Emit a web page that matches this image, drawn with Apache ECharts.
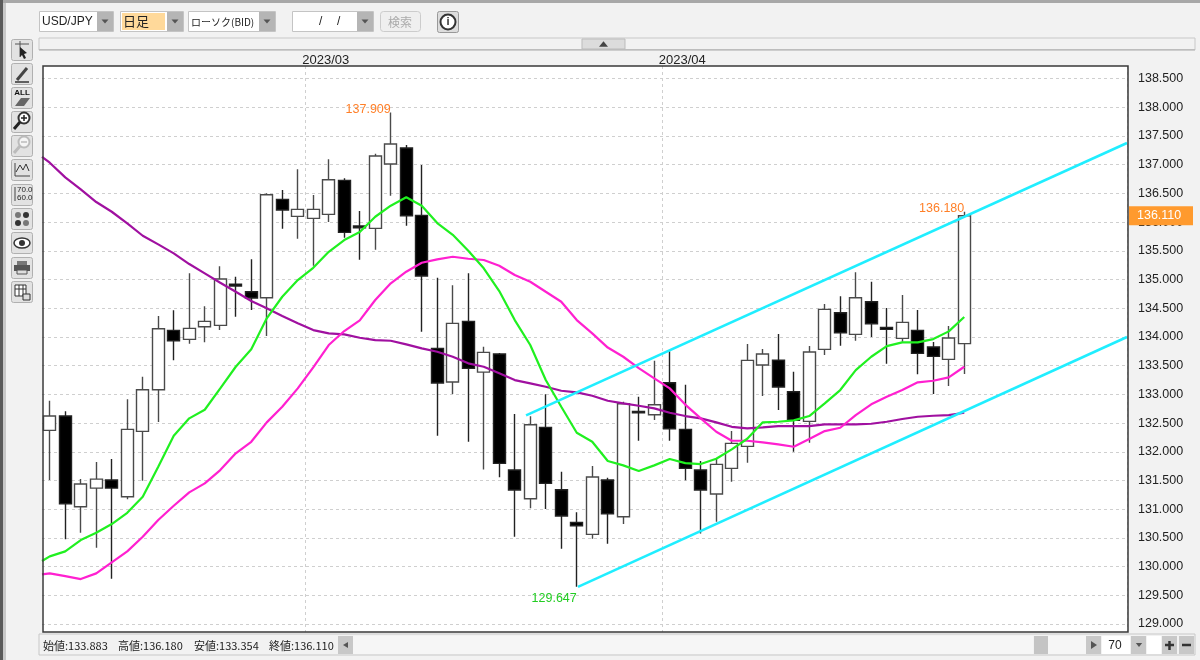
<!DOCTYPE html>
<html><head><meta charset="utf-8">
<style>html,body{margin:0;padding:0;background:#f2f2f2}#c{width:1200px;height:660px}</style>
<script src="https://cdn.jsdelivr.net/npm/echarts@6/dist/echarts.min.js"></script>
</head><body><div id="c"></div>
<script>
const tradingDays=['2023/02/06','2023/02/07','2023/02/08','2023/02/09','2023/02/10','2023/02/13','2023/02/14','2023/02/15','2023/02/16','2023/02/17','2023/02/20','2023/02/21','2023/02/22','2023/02/23','2023/02/24','2023/02/27','2023/02/28',
'2023/03/01','2023/03/02','2023/03/03','2023/03/06','2023/03/07','2023/03/08','2023/03/09','2023/03/10','2023/03/13','2023/03/14','2023/03/15','2023/03/16','2023/03/17','2023/03/20','2023/03/21','2023/03/22','2023/03/23','2023/03/24','2023/03/27','2023/03/28','2023/03/29','2023/03/30','2023/03/31',
'2023/04/03','2023/04/04','2023/04/05','2023/04/06','2023/04/07','2023/04/10','2023/04/11','2023/04/12','2023/04/13','2023/04/14','2023/04/17','2023/04/18','2023/04/19','2023/04/20','2023/04/21','2023/04/24','2023/04/25','2023/04/26','2023/04/27','2023/04/28'];
const emptySlots=['','','','','','','','','',''];
const monthStarts=['2023/03/01','2023/04/03'];
const priceTicks=[129,129.5,130,130.5,131,131.5,132,132.5,133,133.5,134,134.5,135,135.5,136,136.5,137,137.5,138,138.5];
const opens=[132.373,132.622,131.042,131.367,131.507,131.216,132.355,133.080,134.115,133.958,134.178,134.202,134.921,134.787,134.683,136.397,136.101,136.066,136.136,136.728,135.932,135.892,137.012,137.291,136.118,133.801,133.214,134.272,133.388,133.702,131.681,131.181,132.425,131.338,130.770,130.561,131.507,130.867,132.704,132.644,133.202,132.390,131.681,131.263,131.711,132.094,133.510,133.597,133.045,132.529,133.784,134.422,134.045,134.613,134.167,133.975,134.115,133.824,133.610,133.883];
const closes=[132.622,131.094,131.437,131.524,131.367,132.390,133.080,134.143,133.934,134.150,134.272,135.009,134.887,134.678,136.477,136.211,136.223,136.223,136.739,135.822,135.902,137.152,137.361,136.111,135.061,133.197,134.237,133.453,133.732,131.798,131.333,132.470,131.449,130.880,130.711,131.559,130.920,132.836,132.679,132.819,132.401,131.711,131.333,131.780,132.146,133.592,133.702,133.127,132.547,133.737,134.481,134.073,134.683,134.230,134.132,134.254,133.714,133.662,133.981,136.110];
const highs=[132.888,132.704,131.524,131.820,131.873,132.913,133.306,134.364,134.463,135.108,134.533,135.230,135.049,135.352,136.502,136.559,136.920,136.472,137.094,136.763,136.193,137.192,137.909,137.343,136.995,135.031,134.899,135.108,133.829,133.719,132.657,132.617,133.000,131.651,130.944,131.751,131.547,132.871,132.958,133.585,133.749,133.167,131.838,131.885,132.360,133.876,133.789,134.050,133.394,133.841,134.573,134.707,135.125,134.962,134.503,134.730,134.469,133.911,134.190,136.180];
const lows=[131.507,130.474,130.589,130.327,129.787,131.171,131.495,132.517,133.592,133.881,133.906,134.120,134.352,134.469,134.016,135.885,135.711,135.240,136.002,135.728,135.345,135.519,136.460,135.937,134.090,132.279,133.005,132.174,131.693,131.554,130.519,131.014,131.002,130.310,129.647,130.484,130.397,130.740,132.192,132.552,132.192,131.502,130.578,130.780,131.477,131.808,132.970,132.726,132.000,132.157,133.685,133.847,133.934,133.998,133.533,133.916,133.348,133.005,133.145,133.354];
const maShortLead=130.096;
const maShort=[130.177,130.265,130.462,130.589,130.740,130.937,131.216,131.739,132.279,132.582,132.732,133.104,133.481,133.784,134.324,134.700,134.991,135.205,135.484,135.688,135.827,136.094,136.286,136.432,136.286,135.984,135.780,135.502,135.195,134.800,134.294,133.859,133.249,132.784,132.331,132.174,131.838,131.763,131.664,131.763,131.873,131.803,131.786,131.878,132.042,132.226,132.512,132.523,132.547,132.622,132.843,133.075,133.423,133.655,133.841,133.906,133.906,133.963,134.097,134.347];
const maMidLead=129.864;
const maMid=[129.881,129.834,129.782,129.881,130.073,130.265,130.519,130.810,131.059,131.293,131.449,131.681,131.972,132.174,132.512,132.784,133.104,133.470,133.859,134.103,134.289,134.643,134.934,135.136,135.293,135.352,135.397,135.362,135.340,135.240,135.078,134.962,134.787,134.613,134.294,134.063,133.815,133.655,133.458,133.279,133.104,132.822,132.582,132.348,132.192,132.192,132.164,132.129,132.087,132.221,132.360,132.418,132.639,132.826,132.958,133.075,133.209,133.237,133.296,133.481];
const maLongLead=137.139;
const maLong=[137.035,136.780,136.571,136.350,136.181,135.979,135.763,135.613,135.456,135.270,135.108,134.944,134.787,134.625,134.498,134.364,134.237,134.120,134.063,134.045,133.986,133.946,133.934,133.871,133.801,133.742,133.655,133.540,133.481,133.366,133.249,133.192,133.132,133.063,133.035,132.975,132.888,132.843,132.801,132.756,132.679,132.622,132.582,132.512,132.435,132.408,132.425,132.448,132.448,132.448,132.477,132.477,132.477,132.488,132.523,132.570,132.610,132.627,132.639,132.679];
const upperChannel=[[31.23,132.634],[70,137.378]];
const lowerChannel=[[34.58,129.647],[70,134.0]];
const highNote={index:22,value:137.909};
const topNote={index:59,value:136.180};
const lowNote={index:34,value:129.647};
const lastClose=136.110;
const statusTexts=['始値:133.883','高値:136.180','安値:133.354','終値:136.110'];

const categories=tradingDays.concat(emptySlots);
const candles=opens.map((o,i)=>[o,closes[i],lows[i],highs[i]]);
const slotLine=(lead,arr)=>[[0,lead]].concat(arr.map((v,i)=>[i+0.5,v]));
const LAT='"Liberation Sans",Arial,sans-serif', CJK='"Noto Sans CJK JP","Liberation Sans",sans-serif';

const g=[];
const rect=(x,y,w,h,fill,stroke,lw)=>g.push({type:'rect',shape:{x,y,width:w,height:h},style:{fill:fill||'none',stroke:stroke||'none',lineWidth:lw||1},silent:true});
const txt=(x,y,t,o)=>g.push({type:'text',x,y,style:Object.assign({text:t,fill:'#222',font:'12px '+CJK,textVerticalAlign:'middle'},o||{}),silent:true});
const tri=(cx,cy,s,up,fill)=>g.push({type:'polygon',shape:{points:up?[[cx-s,cy+s*0.6],[cx+s,cy+s*0.6],[cx,cy-s*0.6]]:[[cx-s,cy-s*0.6],[cx+s,cy-s*0.6],[cx,cy+s*0.6]]},style:{fill:fill||'#555'},silent:true});
const line=(x1,y1,x2,y2,c,w)=>g.push({type:'line',shape:{x1,y1,x2,y2},style:{stroke:c||'#444',lineWidth:w||1},silent:true});
const circ=(cx,cy,r,fill,stroke,w)=>g.push({type:'circle',shape:{cx,cy,r},style:{fill:fill||'none',stroke:stroke||'none',lineWidth:w||1},silent:true});

// window edges
rect(0,0,1200,3,'#a8a8a8');
rect(0,0,3,660,'#5a5a5a');
rect(3,3,3,657,'#c8c8c8');
// combos
const combo=(x,w,label,o)=>{rect(x+.5,11.5,w,20,'#fff','#c4c4c4');rect(x+w-16,12,16,19,'#b5b5b5');tri(x+w-8,21.5,3.5,false,'#555');
  if(label)txt(x+3,22,label,o);};
combo(39,74,'USD/JPY',{font:'12px '+LAT});
combo(120,63,'');rect(122,13,43,17,'#ffd99a');txt(123,21,'日足',{font:'13px '+CJK});
combo(188,87,'ローソク(BID)',{font:'10px '+CJK});
combo(292,81,'',{});txt(319,22,'/',{font:'12px '+LAT});txt(337,22,'/',{font:'12px '+LAT});
g.push({type:'rect',shape:{x:380.5,y:11.5,width:40,height:20,r:3},style:{fill:'#efefef',stroke:'#ccc'},silent:true});
txt(388,22,'検索',{font:'12px '+CJK,fill:'#aaa'});
g.push({type:'rect',shape:{x:437.5,y:11.5,width:21,height:21,r:2},style:{fill:'#ddd',stroke:'#999'},silent:true});
circ(448,22,7.5,'#fff','#333',2);txt(448,22,'i',{font:'bold 11px '+LAT,textAlign:'center',fill:'#333'});
// header bands
rect(39,38,1156,12,'#f2f2f2','#c8c8c8');
rect(39,49,1156,1.5,'#bdbdbd');
rect(582,39,43,10,'#dcdcdc','#bbb');tri(603.5,44,4.5,true,'#444');
// side toolbar
const btnY=[39,63,87,111,135,159,184,208,232,257,281];
btnY.forEach(y=>g.push({type:'rect',shape:{x:11.5,y:y+.5,width:21,height:21,r:2},style:{fill:'#e2e2e2',stroke:'#b0b0b0'},silent:true}));
line(15,44,29,44,'#555');line(20,41,20,57,'#555');g.push({type:'polygon',shape:{points:[[20,47],[27,53],[24,54],[26,58],[24,59],[22,55],[20,57]]},style:{fill:'#222'},silent:true});
line(17,80,27,68,'#444',3);line(15,82,29,82,'#333',1.5);
txt(22,93,'ALL',{font:'bold 8px '+LAT,textAlign:'center',fill:'#111'});g.push({type:'polygon',shape:{points:[[15,106],[21,98],[30,98],[24,106]]},style:{fill:'#666'},silent:true});
circ(24,118,5.5,'#fff','#333',2);line(20,122,14,129,'#222',3);line(21,118,27,118,'#222',1.5);line(24,115,24,121,'#222',1.5);
circ(24,142,5.5,'#f5f5f5','#bbb',2);line(20,146,14,153,'#bbb',3);line(21,142,27,142,'#bbb',1.5);
line(15,163,15,176,'#444');line(15,176,30,176,'#444');
g.push({type:'polyline',shape:{points:[[16,172],[20,165],[23,170],[26,164],[29,171]]},style:{fill:'none',stroke:'#333'},silent:true});
line(15,187,15,201,'#444');txt(17,190,'70.0',{font:'8px '+LAT,fill:'#222'});txt(17,198,'60.0',{font:'8px '+LAT,fill:'#222'});
circ(18,215,3,'#777');circ(26,215,3,'#333');circ(18,223,3,'#333');circ(26,223,3,'#777');
g.push({type:'ellipse',shape:{cx:22,cy:243,rx:8,ry:5},style:{fill:'#fff',stroke:'#333',lineWidth:1.5},silent:true});circ(22,243,3,'#333');
rect(17,261,10,4,'#777');rect(14,265,16,6,'#555');rect(17,270,10,4,'#ddd','#555');
rect(15,285,11,11,'#fff','#333');line(15,289,26,289,'#333');line(19,285,19,296,'#333');line(23,285,23,296,'#333');rect(23,294,7,6,'#ddd','#333');
// status bar
rect(39,634,1156,21,'#f2f2f2','#c8c8c8');
const statusX=[43,118,194,269];
statusTexts.forEach((t,i)=>txt(statusX[i],646,t,{font:'11px '+CJK,fill:'#222'}));
rect(338,636,15,18,'#c8c8c8');g.push({type:'polygon',shape:{points:[[343,645],[348,642],[348,648]]},style:{fill:'#555'},silent:true});
rect(353,636,680,18,'#f6f6f6');
rect(1034,636,14,18,'#c4c4c4');
rect(1048,636,38,18,'#f6f6f6');
rect(1086,636,15,18,'#c8c8c8');g.push({type:'polygon',shape:{points:[[1091,641],[1097,645],[1091,649]]},style:{fill:'#555'},silent:true});
rect(1102,636,28,18,'#fff');txt(1115,646,'70',{font:'12px '+LAT,textAlign:'center'});
rect(1131,636,15,18,'#c8c8c8');tri(1139,645,3.2,false,'#555');
rect(1147,636,14,18,'#fff');
rect(1162,636,15,18,'#c8c8c8');line(1165,645,1174,645,'#333',2.5);line(1169.5,641,1169.5,650,'#333',2.5);
rect(1179,636,15,18,'#c8c8c8');line(1182,645,1191,645,'#333',2.5);
// plot frame above the series
g.push({type:'rect',z:100,shape:{x:43,y:66,width:1085,height:566},style:{fill:'none',stroke:'#3a3a3a',lineWidth:1.5},silent:true});

const noteLabel=(c)=>({show:true,position:[0,0],align:'right',verticalAlign:'bottom',color:c,fontFamily:LAT,fontSize:12.5,offset:[0,3]});
const gridDash={type:[3,3],color:'#cfcfcf',width:1};
const option={
  animation:false,backgroundColor:'#f2f2f2',
  grid:{left:42,top:66,width:1085,height:566,show:true,backgroundColor:'#fff',borderWidth:0,containLabel:false},
  xAxis:[{type:'category',data:categories,position:'top',boundaryGap:true,axisLine:{show:false},axisTick:{show:false},
    axisLabel:{show:true,interval:(i,v)=>monthStarts.includes(v),formatter:v=>v.slice(0,7),color:'#222',fontFamily:LAT,fontSize:13,margin:-1,padding:[0,0,0,25]},
    splitLine:{show:true,interval:(i,v)=>monthStarts.includes(v),lineStyle:gridDash}},
   {type:'value',min:0,max:70,show:false,splitLine:{show:false}}],
  yAxis:{type:'value',position:'right',min:128.86,max:138.72,axisLine:{show:false},
    axisTick:{show:false,customValues:priceTicks},
    axisLabel:{customValues:priceTicks,color:'#222',fontFamily:LAT,fontSize:12.5,margin:11,formatter:v=>v.toFixed(3)},
    splitLine:{show:true,customValues:priceTicks,lineStyle:gridDash}},
  series:[
   {type:'candlestick',xAxisIndex:0,data:candles,barWidth:12.5,z:2,
    itemStyle:{color:'#fff',color0:'#000',borderColor:'#4a4a4a',borderColor0:'#222',borderWidth:1.4},
    markPoint:{symbol:'circle',symbolSize:0,silent:true,data:[
      {coord:[categories[highNote.index],highNote.value],value:highNote.value.toFixed(3),label:noteLabel('#ff7f27')},
      {coord:[categories[topNote.index],topNote.value],value:topNote.value.toFixed(3),label:noteLabel('#ff7f27')},
      {coord:[categories[lowNote.index],lowNote.value],value:lowNote.value.toFixed(3),label:Object.assign(noteLabel('#22cc22'),{verticalAlign:'top',offset:[0,5]})}]},
    markLine:{silent:true,symbol:'none',lineStyle:{color:'transparent',width:0},data:[{yAxis:lastClose}],
      label:{show:true,opacity:1,position:'end',distance:2,formatter:lastClose.toFixed(3),color:'#fff',backgroundColor:'#ff9a2e',fontFamily:LAT,fontSize:12.5,width:56,height:19,lineHeight:19,align:'left',padding:[0,0,0,8]}}},
   {type:'line',name:'long',xAxisIndex:1,data:slotLine(maLongLead,maLong),showSymbol:false,symbol:'none',lineStyle:{color:'#a010a0',width:2.2},z:3},
   {type:'line',name:'mid',xAxisIndex:1,data:slotLine(maMidLead,maMid),showSymbol:false,symbol:'none',lineStyle:{color:'#ff20d0',width:2.2},z:3},
   {type:'line',name:'short',xAxisIndex:1,data:slotLine(maShortLead,maShort),showSymbol:false,symbol:'none',lineStyle:{color:'#20f020',width:2.2},z:3},
   {type:'line',name:'upper',xAxisIndex:1,data:upperChannel,showSymbol:false,symbol:'none',lineStyle:{color:'#20eeff',width:2.6},z:4},
   {type:'line',name:'lower',xAxisIndex:1,data:lowerChannel,showSymbol:false,symbol:'none',lineStyle:{color:'#20eeff',width:2.6},z:4}
  ],
  graphic:g
};
const chart=echarts.init(document.getElementById('c'),null,{renderer:'canvas',width:1200,height:660});
chart.setOption(option);
</script></body></html>
